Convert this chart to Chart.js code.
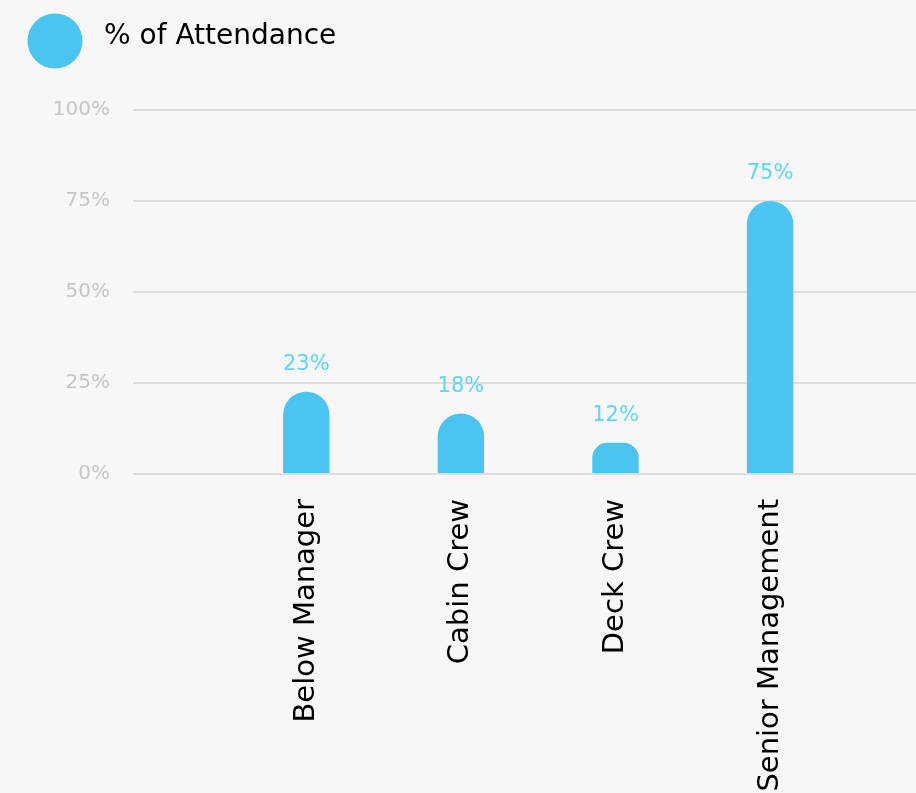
<!DOCTYPE html>
<html>
<head>
<meta charset="utf-8">
<script src="https://cdn.jsdelivr.net/npm/chart.js@4.4.0/dist/chart.umd.min.js"></script>
<style>
  html, body { margin: 0; padding: 0; background: #f7f7f7; overflow: hidden; width: 916px; height: 793px; }
  #wrap { position: relative; width: 1002px; height: 800px; }
  canvas { display: block; }
</style>
</head>
<body>
<div id="wrap"><canvas id="chart" width="1002" height="800"></canvas></div>
<script>
// ---- data ----
const categories = ["Below Manager", "Cabin Crew", "Deck Crew", "Senior Management", ""];
const attendance = [22.6, 16.6, 8.6, 75, null];          // bar heights as drawn
const valueLabels = ["23%", "18%", "12%", "75%", ""];      // printed labels above bars
const yTicks = [0, 25, 50, 75, 100];
const seriesName = "% of Attendance";

const FONT = "'DejaVu Sans', sans-serif";
const BAR = "#4bc4f0";
const LABEL_BLUE = "#62d3f8";

// legend marker: a large circle drawn on a small canvas
const marker = document.createElement('canvas');
marker.width = 56; marker.height = 66;
(function () {
  const m = marker.getContext('2d');
  m.fillStyle = BAR;
  m.beginPath();
  m.arc(28, 37, 27.5, 0, Math.PI * 2);
  m.fill();
})();

const legendSpacing = {
  id: 'legendSpacing',
  beforeInit(chart) {
    const orig = chart.legend.fit;
    chart.legend.fit = function () {
      orig.call(this);
      this.height = 107;
    };
  }
};

const barValueLabels = {
  id: 'barValueLabels',
  afterDatasetsDraw(chart) {
    const ctx = chart.ctx;
    const meta = chart.getDatasetMeta(0);
    ctx.save();
    ctx.font = "21px " + FONT;
    ctx.fillStyle = LABEL_BLUE;
    ctx.textAlign = 'center';
    ctx.textBaseline = 'middle';
    meta.data.forEach((bar, i) => {
      if (attendance[i] == null) return;
      ctx.fillText(valueLabels[i], bar.x, bar.y - 27);
    });
    ctx.restore();
  }
};

new Chart(document.getElementById('chart'), {
  type: 'bar',
  data: {
    labels: categories,
    datasets: [{
      label: seriesName,
      data: attendance,
      backgroundColor: BAR,
      borderRadius: 23,
      borderSkipped: 'start',
      barPercentage: 0.3,
      categoryPercentage: 1
    }]
  },
  options: {
    responsive: false,
    animation: false,
    devicePixelRatio: 1,
    layout: { padding: { top: 3, left: 0, right: 0, bottom: 0 } },
    plugins: {
      tooltip: { enabled: false },
      legend: {
        display: true,
        position: 'top',
        align: 'start',
        labels: {
          usePointStyle: true,
          pointStyle: marker,
          pointStyleWidth: 70,
          padding: 20,
          color: '#000000',
          font: { family: FONT, size: 28 }
        }
      }
    },
    scales: {
      x: {
        grid: { display: false },
        border: { display: false },
        ticks: {
          color: '#000000',
          font: { family: FONT, size: 29 },
          maxRotation: 90,
          minRotation: 90,
          autoSkip: false,
          padding: 17
        },
        afterFit(scale) { scale.height = 326; }
      },
      y: {
        min: 0,
        max: 100,
        border: { display: false },
        grid: { color: '#dedede', lineWidth: 2, drawTicks: true, tickLength: 96 },
        ticks: {
          stepSize: 25,
          padding: 23,
          color: '#c6c6c6',
          font: { family: FONT, size: 20 },
          callback: v => yTicks.includes(v) ? v + '%' : ''
        },
        afterFit(scale) { scale.width = 229; }
      }
    }
  },
  plugins: [legendSpacing, barValueLabels]
});
</script>
</body>
</html>
